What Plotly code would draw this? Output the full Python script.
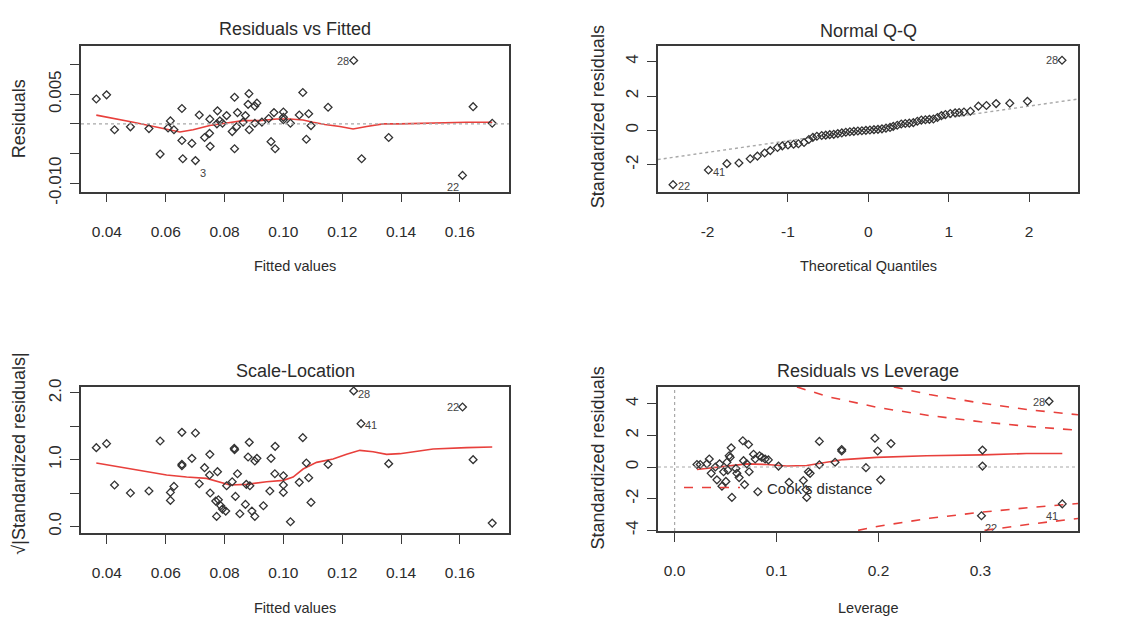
import plotly.graph_objects as go

# ---------------- Panel 1: Residuals vs Fitted ----------------
rvf_fitted = [0.0364, 0.0399, 0.0426, 0.0480, 0.0543, 0.0581, 0.0616, 0.0608, 0.0628, 0.0655,
              0.0655, 0.0658, 0.0689, 0.0701, 0.0714, 0.0732, 0.0749, 0.0750, 0.0751, 0.0776,
              0.0774, 0.0784, 0.0793, 0.0807, 0.0826, 0.0834, 0.0834, 0.0844, 0.0841, 0.0863,
              0.0871, 0.0883, 0.0880, 0.0884, 0.0903, 0.0910, 0.0903, 0.0927, 0.0950, 0.0958,
              0.0968, 0.0972, 0.1000, 0.1000, 0.1000, 0.1024, 0.1054, 0.1066, 0.1078, 0.1086,
              0.1094, 0.1152, 0.1239, 0.1266, 0.1358, 0.1609, 0.1645, 0.1710]
rvf_resid = [0.0042, 0.0049, -0.0010, -0.0005, -0.0008, -0.0051, 0.0005, -0.0007, -0.0010, 0.0026,
             -0.0028, -0.0059, -0.0033, -0.0062, 0.0015, -0.0023, -0.0016, 0.0008, -0.0038, 0.0022,
             0.0000, 0.0005, 0.0001, 0.0014, -0.0013, 0.0045, -0.0042, 0.0019, -0.0005, 0.0003,
             0.0014, 0.0051, 0.0033, -0.0010, 0.0030, 0.0035, 0.0001, 0.0003, 0.0009, -0.0030,
             0.0019, -0.0042, 0.0020, 0.0011, 0.0007, 0.0001, 0.0015, 0.0053, -0.0026, 0.0017,
             -0.0003, 0.0028, 0.0107, -0.0059, -0.0023, -0.0087, 0.0029, 0.0001]
rvf_smooth_x = [0.0364, 0.0426, 0.0490, 0.0543, 0.0603, 0.0648, 0.0693, 0.0750, 0.0807, 0.0863,
                0.0920, 0.0977, 0.1022, 0.1067, 0.1101, 0.1141, 0.1192, 0.1237, 0.1283, 0.1339,
                0.1396, 0.1475, 0.1623, 0.1710]
rvf_smooth_y = [0.00147, 0.00082, 0.00027, -0.00027, -0.00082, -0.00136, -0.00098, -0.00027, 0.00016, 0.00055,
                0.00055, 0.00082, 0.00082, 0.00065, 0.00027, -0.00011, -0.00044, -0.00087, -0.00044, 0.0,
                0.0, 0.0001, 0.00027, 0.00027]
rvf_id_text = ["28", "3", "22"]
rvf_id_index = [52, 13, 55]

# ---------------- Panel 2: Normal Q-Q ----------------
qq_theoretical = [-2.43, -1.99, -1.76, -1.61, -1.47, -1.38, -1.29, -1.22, -1.13, -1.07,
                  -1.00, -0.93, -0.87, -0.80, -0.74, -0.69, -0.64, -0.58, -0.53, -0.48,
                  -0.43, -0.38, -0.33, -0.28, -0.23, -0.18, -0.13, -0.08, -0.03, 0.02,
                  0.07, 0.12, 0.17, 0.22, 0.27, 0.31, 0.36, 0.41, 0.46, 0.51,
                  0.56, 0.61, 0.66, 0.71, 0.76, 0.81, 0.86, 0.91, 0.96, 1.02,
                  1.08, 1.13, 1.19, 1.27, 1.37, 1.47, 1.59, 1.76, 1.98, 2.41]
qq_std_resid = [-3.16, -2.31, -1.94, -1.90, -1.65, -1.50, -1.32, -1.18, -1.00, -0.90,
                -0.85, -0.81, -0.78, -0.71, -0.53, -0.41, -0.34, -0.30, -0.28, -0.25,
                -0.23, -0.19, -0.15, -0.11, -0.08, -0.06, -0.04, -0.02, 0.00, 0.02,
                0.04, 0.06, 0.09, 0.13, 0.17, 0.23, 0.30, 0.37, 0.40, 0.42,
                0.45, 0.53, 0.60, 0.62, 0.64, 0.66, 0.75, 0.86, 0.92, 0.98,
                1.02, 1.04, 1.07, 1.11, 1.41, 1.45, 1.56, 1.58, 1.69, 4.08]
qq_line_x = [-2.62, 2.62]
qq_line_y = [-1.70, 1.83]
qq_id_text = ["22", "41", "28"]
qq_id_index = [0, 1, 59]

# ---------------- Panel 3: Scale-Location ----------------
sl_fitted = [0.0364, 0.0399, 0.0426, 0.0480, 0.0543, 0.0581, 0.0616, 0.0616, 0.0628, 0.0655,
             0.0655, 0.0655, 0.0689, 0.0701, 0.0714, 0.0732, 0.0749, 0.0750, 0.0751, 0.0776,
             0.0770, 0.0773, 0.0779, 0.0787, 0.0793, 0.0804, 0.0807, 0.0826, 0.0833, 0.0834,
             0.0837, 0.0844, 0.0852, 0.0871, 0.0874, 0.0880, 0.0884, 0.0886, 0.0893, 0.0903,
             0.0903, 0.0910, 0.0932, 0.0954, 0.0958, 0.0971, 0.0972, 0.1000, 0.1000, 0.1000,
             0.1024, 0.1054, 0.1066, 0.1078, 0.1086, 0.1094, 0.1152, 0.1239, 0.1264, 0.1358,
             0.1609, 0.1645, 0.1710]
sl_sqrt_abs = [1.18, 1.24, 0.62, 0.50, 0.53, 1.28, 0.51, 0.39, 0.60, 1.41,
               0.91, 0.93, 1.02, 1.40, 0.64, 0.88, 0.77, 1.08, 0.50, 0.82,
               0.38, 0.15, 0.40, 0.31, 0.26, 0.23, 0.61, 0.67, 1.17, 1.15,
               0.45, 0.79, 0.19, 0.33, 0.63, 1.04, 1.26, 0.61, 0.23, 0.15,
               0.98, 1.02, 0.31, 0.53, 1.02, 0.79, 1.20, 0.76, 0.62, 0.51,
               0.07, 0.66, 1.33, 0.95, 0.73, 0.36, 0.93, 2.03, 1.54, 0.94,
               1.79, 1.00, 0.05]
sl_smooth_x = [0.0364, 0.0490, 0.0603, 0.0671, 0.0739, 0.0818, 0.0875, 0.0943, 0.1000, 0.1033,
               0.1067, 0.1113, 0.1169, 0.1215, 0.1260, 0.1305, 0.1351, 0.1396, 0.1509, 0.1623, 0.1710]
sl_smooth_y = [0.95, 0.86, 0.77, 0.74, 0.72, 0.62, 0.63, 0.67, 0.69, 0.74,
               0.86, 0.96, 1.01, 1.08, 1.14, 1.12, 1.08, 1.09, 1.16, 1.18, 1.19]
sl_id_text = ["28", "41", "22"]
sl_id_index = [57, 58, 60]

# ---------------- Panel 4: Residuals vs Leverage ----------------
rvl_leverage = [0.0219, 0.0251, 0.0340, 0.0317, 0.0359, 0.0415, 0.0400, 0.0441, 0.0464, 0.0480,
                0.0503, 0.0513, 0.0535, 0.0555, 0.0545, 0.0562, 0.0522, 0.0611, 0.0633, 0.0601,
                0.0669, 0.0676, 0.0686, 0.0725, 0.0731, 0.0708, 0.0774, 0.0790, 0.0816, 0.0833,
                0.0855, 0.0888, 0.0920, 0.1019, 0.1123, 0.1263, 0.1296, 0.1290, 0.1312, 0.1329,
                0.1420, 0.1420, 0.1574, 0.1639, 0.1639, 0.1877, 0.1965, 0.1992, 0.2021, 0.2122,
                0.3020, 0.3020, 0.3010, 0.3673, 0.3803]
rvl_std_resid = [0.16, 0.16, 0.51, 0.20, -0.40, -0.81, 0.00, 0.20, -1.21, -0.30,
                 -0.91, 0.30, 0.71, 1.21, 0.61, -1.92, -0.20, -0.40, -0.67, -0.10,
                 1.66, 0.40, -1.11, 1.42, -0.30, 0.20, 0.81, 0.51, -1.56, 0.71,
                 0.61, 0.51, 0.45, 0.06, -0.97, -0.85, -1.92, -1.42, -0.30, -0.40,
                 1.62, 0.14, 0.30, 1.01, 1.11, -0.04, 1.82, 1.01, -0.81, 1.48,
                 1.07, 0.06, -3.08, 4.15, -2.33]
rvl_smooth_x = [0.0219, 0.0447, 0.0708, 0.0904, 0.1100, 0.1296, 0.1492, 0.1655, 0.1982, 0.2471,
                0.3020, 0.3451, 0.3803]
rvl_smooth_y = [-0.16, 0.00, 0.20, 0.16, 0.06, 0.10, 0.30, 0.47, 0.61, 0.71,
                0.77, 0.85, 0.85]
cook_up05_x = [0.120, 0.150, 0.200, 0.250, 0.300, 0.350, 0.396]
cook_up05_y = [5.06, 4.45, 3.75, 3.25, 2.86, 2.55, 2.32]
cook_up1_x = [0.215, 0.250, 0.300, 0.350, 0.396]
cook_up1_y = [5.06, 4.58, 4.04, 3.60, 3.30]
cook_lo05_x = [0.180, 0.200, 0.250, 0.300, 0.350, 0.396]
cook_lo05_y = [-4.00, -3.74, -3.24, -2.86, -2.55, -2.30]
cook_lo1_x = [0.304, 0.350, 0.396]
cook_lo1_y = [-4.00, -3.60, -3.25]
rvl_id_text = ["28", "41", "22"]
rvl_id_index = [53, 54, 52]
cook_legend_label = "Cook's distance"

# ---------------- Styling ----------------
W, H = 1130, 630
FONT = "Liberation Sans, Arial, sans-serif"
TXT = "#2b2b2b"
PT = "#333333"
RED = "#e8403c"
GREY = "#a8a8a8"


def px_x(p):
    return p / W


def px_y(p):
    return 1 - p / H


boxes = {
    1: (81, 509, 39, 190),
    2: (658, 1078, 39, 190),
    3: (81, 509, 392, 543),
    4: (658, 1078, 392, 541),
}


def axis(domain, rng, tickvals, ticktext, anchor, angle=0, standoff=10, size=15.5):
    return dict(domain=domain, range=rng, tickvals=tickvals, ticktext=ticktext,
                anchor=anchor, showgrid=False, zeroline=False, showline=True, mirror=True,
                linecolor="#3a3a3a", linewidth=1.6, ticks="outside", ticklen=9, tickwidth=1.3,
                tickcolor="#3a3a3a", tickangle=angle, ticklabelstandoff=standoff,
                tickfont=dict(family=FONT, size=size, color=TXT))


layout = dict(width=W, height=H, margin=dict(l=0, r=0, t=0, b=0),
              paper_bgcolor="white", plot_bgcolor="white", showlegend=False,
              font=dict(family=FONT, color=TXT))

dom = {}
for k, (l, r, t, b) in boxes.items():
    dom[k] = ([px_x(l), px_x(r)], [px_y(b), px_y(t)])

XS, YS = 16, 2
layout["xaxis"] = axis(dom[1][0], [0.0312, 0.1767],
                       [0.04, 0.06, 0.08, 0.10, 0.12, 0.14, 0.16],
                       ["0.04", "0.06", "0.08", "0.10", "0.12", "0.14", "0.16"], "y", standoff=XS)
layout["yaxis"] = axis(dom[1][1], [-0.01145, 0.0132],
                       [-0.010, -0.005, 0.0, 0.005, 0.010],
                       ["-0.010", "", "", "0.005", ""], "x", angle=-90, standoff=YS, size=17)
layout["xaxis2"] = axis(dom[2][0], [-2.617, 2.609],
                        [-2, -1, 0, 1, 2], ["-2", "-1", "0", "1", "2"], "y2", standoff=XS)
layout["yaxis2"] = axis(dom[2][1], [-3.57, 4.93],
                        [-2, 0, 2, 4], ["-2", "0", "2", "4"], "x2", angle=-90, standoff=YS, size=17)
layout["xaxis3"] = axis(dom[3][0], [0.0312, 0.1767],
                        [0.04, 0.06, 0.08, 0.10, 0.12, 0.14, 0.16],
                        ["0.04", "0.06", "0.08", "0.10", "0.12", "0.14", "0.16"], "y3", standoff=XS)
layout["yaxis3"] = axis(dom[3][1], [-0.097, 2.09],
                        [0.0, 0.5, 1.0, 1.5, 2.0], ["0.0", "", "1.0", "", "2.0"], "x3",
                        angle=-90, standoff=YS, size=17)
layout["xaxis4"] = axis(dom[4][0], [-0.0163, 0.3957],
                        [0.0, 0.1, 0.2, 0.3], ["0.0", "0.1", "0.2", "0.3"], "y4", standoff=XS)
layout["yaxis4"] = axis(dom[4][1], [-4.04, 5.06],
                        [-4, -2, 0, 2, 4], ["-4", "-2", "0", "2", "4"], "x4",
                        angle=-90, standoff=YS, size=17)

fig = go.Figure()

marker = dict(symbol="diamond-open", size=6, color=PT, line=dict(width=1.3, color=PT))


def pts(x, y, k):
    xs = "" if k == 1 else str(k)
    fig.add_trace(go.Scatter(x=x, y=y, mode="markers", marker=marker, showlegend=False,
                             xaxis="x" + xs, yaxis="y" + xs, hoverinfo="skip"))


def line(x, y, k, color=RED, dash="solid", width=1.6):
    xs = "" if k == 1 else str(k)
    fig.add_trace(go.Scatter(x=x, y=y, mode="lines", line=dict(color=color, dash=dash, width=width),
                             showlegend=False, xaxis="x" + xs, yaxis="y" + xs,
                             hoverinfo="skip"))


# reference dotted lines + Cook's distance legend key
shapes = [
    dict(type="line", xref="x domain", yref="y", x0=0, x1=1, y0=0, y1=0,
         line=dict(color=GREY, dash="dot", width=1.2)),
    dict(type="line", xref="x4 domain", yref="y4", x0=0, x1=1, y0=0, y1=0,
         line=dict(color=GREY, dash="dot", width=1.2)),
    dict(type="line", xref="x4", yref="y4 domain", x0=0, x1=0, y0=0, y1=1,
         line=dict(color=GREY, dash="dot", width=1.2)),
    dict(type="line", xref="paper", yref="paper", x0=px_x(684), x1=px_x(740),
         y0=px_y(496), y1=px_y(496), line=dict(color=RED, dash="dash", width=1.6)),
]

# panel 1
line(rvf_smooth_x, rvf_smooth_y, 1)
pts(rvf_fitted, rvf_resid, 1)
# panel 2
line(qq_line_x, qq_line_y, 2, color=GREY, dash="dot", width=1.4)
pts(qq_theoretical, qq_std_resid, 2)
# panel 3
line(sl_smooth_x, sl_smooth_y, 3)
pts(sl_fitted, sl_sqrt_abs, 3)
# panel 4
line(cook_up05_x, cook_up05_y, 4, dash="dash")
line(cook_up1_x, cook_up1_y, 4, dash="dash")
line(cook_lo05_x, cook_lo05_y, 4, dash="dash")
line(cook_lo1_x, cook_lo1_y, 4, dash="dash")
line(rvl_smooth_x, rvl_smooth_y, 4)
pts(rvl_leverage, rvl_std_resid, 4)

annotations = []

# titles
titles = [("Residuals vs Fitted", 295, 22), ("Normal Q-Q", 868, 24),
          ("Scale-Location", 295, 375), ("Residuals vs Leverage", 868, 375)]
for text, x, y in titles:
    annotations.append(dict(text=text, x=px_x(x), y=px_y(y), xref="paper", yref="paper",
                            showarrow=False, xanchor="center", yanchor="middle",
                            font=dict(family=FONT, size=18, color=TXT)))

# axis titles
xtitles = [("Fitted values", 295, 267), ("Theoretical Quantiles", 868, 267),
           ("Fitted values", 295, 621), ("Leverage", 868, 621)]
for text, x, y in xtitles:
    annotations.append(dict(text=text, x=px_x(x), y=px_y(y), xref="paper", yref="paper",
                            showarrow=False, xanchor="center", yanchor="middle",
                            font=dict(family=FONT, size=14.5, color=TXT)))
ytitles = [("Residuals", 19, 115), ("Standardized residuals", 598, 113),
           ("√|Standardized residuals|", 19, 461), ("Standardized residuals", 598, 466)]
for text, x, y in ytitles:
    annotations.append(dict(text=text, x=px_x(x), y=px_y(y), xref="paper", yref="paper",
                            showarrow=False, xanchor="center", yanchor="middle", textangle=-90,
                            font=dict(family=FONT, size=18, color=TXT)))

# Cook's distance legend text
annotations.append(dict(text=cook_legend_label, x=px_x(765), y=px_y(497), xref="paper", yref="paper",
                        showarrow=False, xanchor="left", yanchor="middle",
                        font=dict(family=FONT, size=15, color=TXT)))

# point id labels
id_sets = [
    (1, rvf_fitted, rvf_resid, rvf_id_text, rvf_id_index, [(-11, 0), (8, -12), (-10, -12)]),
    (2, qq_theoretical, qq_std_resid, qq_id_text, qq_id_index, [(11, -1), (11, -2), (-10, 0)]),
    (3, sl_fitted, sl_sqrt_abs, sl_id_text, sl_id_index, [(10, -3), (10, -1), (-10, 0)]),
    (4, rvl_leverage, rvl_std_resid, rvl_id_text, rvl_id_index, [(-10, -1), (-10, -12), (10, -12)]),
]
for k, xs_, ys_, texts, idxs, offs in id_sets:
    s = "" if k == 1 else str(k)
    for t, i, (dx, dy) in zip(texts, idxs, offs):
        annotations.append(dict(text=t, x=xs_[i], y=ys_[i], xref="x" + s, yref="y" + s,
                                showarrow=False, xshift=dx, yshift=dy,
                                font=dict(family=FONT, size=11, color="#444444")))

layout["annotations"] = annotations
layout["shapes"] = shapes

fig.update_layout(**layout)
fig.write_html("out.html")
